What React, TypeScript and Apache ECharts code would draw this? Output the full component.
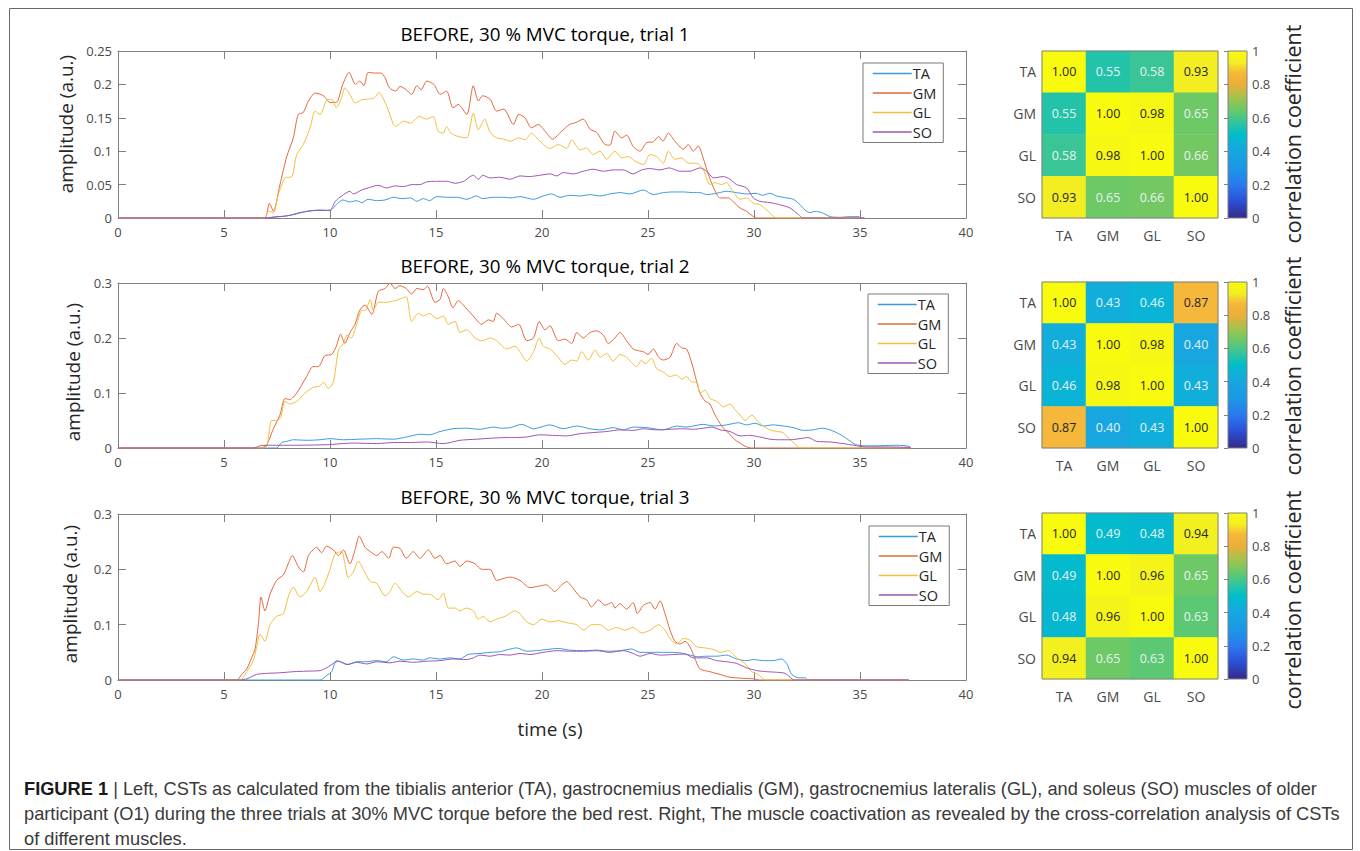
import React, { useEffect, useRef } from "react";
import * as echarts from "echarts";

// ---------------- data ----------------
const MUSCLES = ["TA", "GM", "GL", "SO"];
const TITLES = [
  "BEFORE, 30 % MVC torque, trial 1",
  "BEFORE, 30 % MVC torque, trial 2",
  "BEFORE, 30 % MVC torque, trial 3",
];
const Y_MAX = [0.25, 0.3, 0.3];
const Y_STEP = [0.05, 0.1, 0.1];

const P1_TA = [[0,0],[6.89,0],[7.64,0.002],[8.27,0.005],[8.9,0.01],[9.53,0.012],[10.0,0.011],[10.3,0.02],[10.6,0.027],[10.94,0.024],[11.25,0.026],[11.5,0.023],[11.8,0.028],[12.2,0.026],[12.6,0.027],[12.99,0.031],[13.4,0.029],[13.8,0.03],[14.1,0.025],[14.4,0.029],[14.7,0.026],[15.03,0.032],[15.5,0.031],[16.0,0.031],[16.45,0.028],[16.9,0.033],[17.2,0.029],[17.7,0.031],[18.2,0.031],[18.5,0.03],[18.96,0.032],[19.6,0.028],[20.06,0.033],[20.45,0.036],[20.85,0.031],[21.3,0.034],[21.8,0.033],[22.26,0.035],[22.74,0.033],[23.2,0.036],[23.68,0.038],[24.15,0.036],[24.78,0.042],[25.25,0.035],[25.72,0.038],[26.2,0.039],[26.67,0.039],[27.14,0.038],[27.45,0.038],[27.77,0.035],[28.24,0.037],[28.7,0.04],[29.18,0.038],[29.65,0.036],[30.1,0.037],[30.4,0.034],[30.75,0.037],[31.07,0.033],[31.54,0.03],[31.86,0.028],[32.17,0.02],[32.4,0.012],[32.64,0.008],[32.88,0.01],[33.2,0.008],[33.6,0.002],[34.05,0.001],[34.5,0.002],[34.9,0.002],[35.15,0],[35.2,0]];
const P1_GM = [[0,0],[6.89,0],[7.14,0.022],[7.33,0.01],[7.64,0.05],[7.96,0.092],[8.27,0.12],[8.5,0.155],[8.74,0.158],[8.98,0.175],[9.3,0.187],[9.69,0.183],[10.0,0.173],[10.3,0.173],[10.6,0.2],[10.9,0.218],[11.2,0.2],[11.4,0.205],[11.6,0.198],[11.8,0.218],[12.1,0.217],[12.4,0.217],[12.6,0.21],[12.8,0.195],[13.1,0.19],[13.3,0.197],[13.6,0.192],[13.85,0.185],[14.1,0.198],[14.3,0.192],[14.56,0.205],[14.9,0.2],[15.2,0.185],[15.5,0.19],[15.8,0.165],[16.05,0.17],[16.45,0.155],[16.76,0.198],[17.0,0.175],[17.2,0.183],[17.55,0.178],[17.86,0.16],[18.2,0.163],[18.65,0.14],[18.9,0.155],[19.2,0.15],[19.5,0.135],[19.83,0.14],[20.14,0.13],[20.5,0.118],[20.93,0.13],[21.3,0.14],[21.6,0.143],[21.95,0.148],[22.26,0.133],[22.58,0.128],[22.97,0.11],[23.2,0.109],[23.44,0.13],[23.76,0.12],[23.99,0.124],[24.3,0.107],[24.62,0.1],[24.94,0.113],[25.25,0.114],[25.5,0.122],[25.7,0.115],[25.96,0.127],[26.27,0.115],[26.67,0.103],[26.9,0.11],[27.14,0.1],[27.37,0.108],[27.6,0.09],[27.85,0.065],[28.1,0.045],[28.4,0.03],[28.8,0.03],[29.0,0.025],[29.34,0.015],[29.65,0.01],[29.97,0.002],[30.1,0],[35.2,0]];
const P1_GL = [[0,0],[6.89,0],[7.1,0.01],[7.33,0.008],[7.56,0.035],[7.88,0.06],[8.2,0.062],[8.43,0.095],[8.74,0.11],[9.06,0.135],[9.3,0.16],[9.53,0.155],[9.84,0.176],[10.08,0.178],[10.3,0.165],[10.55,0.18],[10.7,0.195],[10.94,0.185],[11.18,0.172],[11.5,0.177],[11.8,0.178],[12.1,0.18],[12.3,0.188],[12.67,0.168],[12.99,0.14],[13.1,0.137],[13.47,0.145],[13.8,0.142],[14.2,0.152],[14.56,0.148],[14.87,0.152],[15.1,0.13],[15.34,0.127],[15.5,0.137],[15.7,0.127],[16.05,0.122],[16.45,0.12],[16.76,0.157],[17.0,0.132],[17.3,0.148],[17.55,0.128],[17.86,0.12],[18.2,0.118],[18.5,0.115],[18.9,0.12],[19.2,0.117],[19.5,0.127],[19.9,0.115],[20.38,0.104],[20.77,0.11],[21.16,0.104],[21.4,0.117],[21.8,0.102],[22.1,0.105],[22.4,0.095],[22.74,0.1],[23.05,0.088],[23.44,0.1],[23.76,0.09],[24.07,0.092],[24.39,0.085],[24.78,0.08],[25.09,0.095],[25.4,0.092],[25.72,0.082],[25.96,0.1],[26.27,0.088],[26.59,0.09],[26.9,0.082],[27.3,0.082],[27.6,0.073],[27.92,0.05],[28.16,0.053],[28.48,0.05],[28.7,0.053],[29.0,0.04],[29.34,0.028],[29.65,0.03],[29.97,0.022],[30.28,0.02],[30.6,0.012],[30.9,0.003],[31.07,0],[35.2,0]];
const P1_SO = [[0,0],[6.89,0],[7.48,0.002],[7.96,0.003],[8.58,0.008],[9.2,0.011],[10.0,0.012],[10.25,0.025],[10.55,0.033],[10.94,0.04],[11.1,0.036],[11.5,0.042],[11.9,0.046],[12.27,0.049],[12.67,0.045],[13.06,0.048],[13.47,0.047],[13.86,0.05],[14.24,0.05],[14.56,0.054],[15.03,0.055],[15.5,0.055],[15.9,0.052],[16.3,0.055],[16.76,0.064],[17.0,0.058],[17.2,0.064],[17.55,0.06],[18.0,0.061],[18.5,0.058],[18.96,0.063],[19.4,0.062],[19.9,0.064],[20.38,0.066],[20.7,0.063],[21.0,0.068],[21.5,0.066],[21.95,0.07],[22.4,0.073],[22.9,0.07],[23.36,0.072],[23.84,0.072],[24.3,0.066],[24.7,0.072],[25.1,0.074],[25.56,0.072],[26.0,0.075],[26.5,0.07],[26.98,0.07],[27.45,0.075],[27.77,0.07],[28.1,0.06],[28.55,0.062],[28.87,0.058],[29.18,0.05],[29.65,0.045],[29.97,0.03],[30.28,0.025],[30.75,0.023],[31.2,0.02],[31.7,0.015],[32.1,0.005],[32.3,0],[35.2,0]];

const P2_TA = [[0,0],[7.48,0],[7.72,0.01],[7.96,0.012],[8.27,0.015],[8.9,0.014],[9.53,0.015],[10.0,0.017],[10.63,0.015],[11.4,0.016],[12.2,0.017],[13.0,0.016],[13.6,0.02],[14.24,0.025],[14.7,0.024],[15.19,0.03],[15.8,0.035],[16.45,0.036],[17.07,0.034],[17.7,0.038],[18.1,0.036],[18.5,0.037],[19.04,0.043],[19.6,0.035],[20.38,0.042],[21.0,0.035],[21.64,0.04],[22.26,0.035],[22.74,0.033],[23.36,0.037],[23.84,0.033],[24.3,0.038],[24.94,0.037],[25.72,0.033],[26.35,0.04],[26.82,0.038],[27.6,0.043],[28.1,0.04],[28.7,0.042],[29.26,0.046],[29.65,0.042],[30.05,0.045],[30.44,0.04],[30.9,0.042],[31.38,0.04],[31.86,0.037],[32.33,0.032],[32.8,0.033],[33.2,0.036],[33.58,0.033],[34.05,0.025],[34.45,0.015],[34.8,0.006],[35.2,0.004],[35.8,0.004],[36.6,0.005],[37.2,0.004],[37.4,0.001]];
const P2_GM = [[0,0],[6.7,0],[7.0,0.005],[7.33,0.035],[7.64,0.06],[7.88,0.09],[8.1,0.088],[8.43,0.1],[8.9,0.13],[9.2,0.148],[9.45,0.148],[9.76,0.168],[10.08,0.17],[10.3,0.185],[10.5,0.207],[10.7,0.19],[10.94,0.21],[11.18,0.225],[11.4,0.25],[11.65,0.26],[11.97,0.243],[12.28,0.285],[12.6,0.29],[12.83,0.3],[13.07,0.29],[13.3,0.295],[13.6,0.29],[13.85,0.28],[14.1,0.29],[14.4,0.288],[14.6,0.294],[14.95,0.265],[15.19,0.27],[15.35,0.29],[15.58,0.275],[15.8,0.255],[16.05,0.268],[16.4,0.255],[16.76,0.24],[17.15,0.225],[17.47,0.233],[17.7,0.23],[17.86,0.245],[18.18,0.235],[18.57,0.22],[18.9,0.225],[19.28,0.195],[19.6,0.2],[19.87,0.23],[20.14,0.215],[20.38,0.222],[20.77,0.195],[21.08,0.198],[21.4,0.19],[21.64,0.21],[21.95,0.2],[22.26,0.21],[22.58,0.213],[22.9,0.205],[23.13,0.19],[23.44,0.2],[23.68,0.21],[23.99,0.195],[24.3,0.18],[24.54,0.177],[24.78,0.175],[25.0,0.17],[25.25,0.18],[25.5,0.165],[25.72,0.16],[26.04,0.165],[26.35,0.19],[26.59,0.182],[26.82,0.18],[27.06,0.155],[27.3,0.12],[27.45,0.1],[27.7,0.085],[27.92,0.08],[28.16,0.06],[28.48,0.04],[28.8,0.027],[29.1,0.015],[29.42,0.007],[29.65,0.002],[29.9,0],[37.4,0]];
const P2_GL = [[0,0],[6.7,0],[7.0,0.002],[7.25,0.05],[7.48,0.05],[7.67,0.055],[7.88,0.085],[8.1,0.08],[8.43,0.085],[8.82,0.1],[9.2,0.11],[9.53,0.113],[9.69,0.12],[9.92,0.108],[10.16,0.12],[10.4,0.178],[10.63,0.19],[10.8,0.205],[11.0,0.2],[11.26,0.225],[11.5,0.25],[11.65,0.25],[11.9,0.27],[12.04,0.25],[12.28,0.265],[12.67,0.265],[13.07,0.268],[13.38,0.272],[13.6,0.275],[13.85,0.23],[14.17,0.245],[14.4,0.24],[14.7,0.245],[15.03,0.235],[15.35,0.24],[15.58,0.225],[15.9,0.23],[16.13,0.21],[16.45,0.215],[16.84,0.2],[17.15,0.195],[17.55,0.2],[17.86,0.195],[18.33,0.18],[18.73,0.185],[18.96,0.175],[19.28,0.158],[19.6,0.175],[19.87,0.2],[20.06,0.185],[20.38,0.18],[20.7,0.168],[21.08,0.152],[21.4,0.16],[21.64,0.158],[21.87,0.175],[22.19,0.16],[22.5,0.178],[22.74,0.165],[23.05,0.172],[23.36,0.158],[23.68,0.17],[23.99,0.165],[24.23,0.155],[24.46,0.148],[24.7,0.16],[24.86,0.153],[25.17,0.163],[25.4,0.145],[25.72,0.138],[26.04,0.13],[26.35,0.133],[26.59,0.125],[26.82,0.13],[27.06,0.12],[27.3,0.12],[27.45,0.1],[27.7,0.105],[27.92,0.09],[28.24,0.085],[28.55,0.075],[28.87,0.08],[29.1,0.07],[29.34,0.06],[29.57,0.05],[29.9,0.06],[30.13,0.05],[30.44,0.04],[30.75,0.033],[31.07,0.03],[31.38,0.028],[31.62,0.018],[31.93,0.008],[32.17,0],[37.4,0]];
const P2_SO = [[0,0],[6.4,0],[6.7,0.004],[7.0,0.005],[8.27,0.005],[9.84,0.006],[11.1,0.009],[12.2,0.008],[13.0,0.01],[13.8,0.01],[14.56,0.011],[15.35,0.008],[16.13,0.014],[16.9,0.016],[17.7,0.018],[18.3,0.019],[18.65,0.019],[19.28,0.02],[19.9,0.024],[20.5,0.023],[21.16,0.022],[21.8,0.026],[22.4,0.028],[23.05,0.03],[23.68,0.033],[24.3,0.032],[24.78,0.035],[25.4,0.033],[26.04,0.034],[26.59,0.035],[27.14,0.034],[27.6,0.036],[28.0,0.038],[28.4,0.033],[28.87,0.03],[29.34,0.022],[29.8,0.023],[30.28,0.02],[30.75,0.016],[31.2,0.015],[31.7,0.015],[32.17,0.017],[32.56,0.019],[32.95,0.012],[33.58,0.011],[34.2,0.008],[34.7,0.005],[35.3,0.002],[36.1,0.002],[37.36,0.001],[37.4,0]];

const P3_TA = [[0,0],[9.53,0],[9.84,0.008],[10.08,0.015],[10.3,0.035],[10.55,0.032],[10.86,0.028],[11.26,0.033],[11.74,0.033],[12.2,0.035],[12.67,0.033],[12.99,0.042],[13.46,0.036],[13.93,0.038],[14.4,0.036],[14.7,0.04],[15.19,0.038],[15.66,0.04],[16.13,0.038],[16.5,0.046],[17.07,0.048],[17.55,0.05],[18.0,0.051],[18.4,0.055],[18.8,0.058],[19.28,0.052],[19.75,0.053],[20.2,0.055],[20.77,0.057],[21.3,0.054],[21.95,0.053],[22.58,0.054],[23.13,0.052],[23.68,0.053],[24.23,0.056],[24.62,0.05],[25.1,0.05],[25.57,0.05],[26.04,0.05],[26.5,0.049],[26.98,0.045],[27.37,0.042],[27.77,0.043],[28.24,0.043],[28.7,0.045],[29.18,0.038],[29.65,0.035],[29.97,0.037],[30.44,0.035],[30.9,0.035],[31.3,0.038],[31.54,0.03],[31.78,0.01],[32.1,0.004],[32.4,0.004],[32.56,0],[37.3,0]];
const P3_GM = [[0,0],[5.6,0],[5.83,0.01],[6.07,0.02],[6.3,0.04],[6.46,0.055],[6.62,0.1],[6.75,0.15],[6.93,0.125],[7.17,0.155],[7.48,0.18],[7.8,0.19],[8.03,0.21],[8.22,0.225],[8.5,0.205],[8.74,0.195],[8.98,0.225],[9.2,0.235],[9.37,0.24],[9.6,0.23],[9.84,0.242],[10.16,0.235],[10.4,0.225],[10.63,0.235],[10.94,0.21],[11.18,0.235],[11.38,0.26],[11.65,0.24],[11.97,0.23],[12.2,0.225],[12.45,0.232],[12.77,0.22],[12.99,0.24],[13.3,0.238],[13.6,0.22],[13.93,0.232],[14.24,0.22],[14.64,0.235],[14.95,0.22],[15.19,0.225],[15.5,0.21],[15.9,0.215],[16.13,0.205],[16.45,0.215],[16.84,0.21],[17.15,0.2],[17.55,0.2],[17.86,0.18],[18.33,0.185],[18.5,0.186],[18.96,0.18],[19.43,0.167],[19.9,0.17],[20.2,0.172],[20.6,0.16],[20.93,0.172],[21.16,0.178],[21.48,0.165],[21.8,0.15],[22.1,0.145],[22.34,0.132],[22.66,0.145],[22.97,0.135],[23.29,0.14],[23.44,0.13],[23.68,0.138],[23.99,0.128],[24.3,0.14],[24.5,0.12],[24.78,0.135],[25.1,0.14],[25.33,0.128],[25.57,0.143],[25.8,0.12],[26.04,0.09],[26.27,0.07],[26.5,0.065],[26.75,0.07],[26.98,0.06],[27.2,0.04],[27.45,0.02],[27.92,0.015],[28.4,0.01],[28.87,0.005],[29.5,0.003],[29.97,0.002],[30.28,0],[37.3,0]];
const P3_GL = [[0,0],[5.75,0],[6.07,0.015],[6.38,0.035],[6.54,0.06],[6.7,0.083],[6.93,0.07],[7.17,0.1],[7.48,0.115],[7.8,0.12],[8.03,0.15],[8.27,0.168],[8.58,0.15],[8.9,0.16],[9.3,0.185],[9.53,0.16],[9.76,0.175],[10.0,0.2],[10.25,0.228],[10.55,0.232],[10.7,0.21],[10.86,0.185],[11.1,0.195],[11.33,0.215],[11.57,0.2],[11.9,0.178],[12.2,0.175],[12.6,0.152],[12.83,0.16],[13.07,0.175],[13.4,0.16],[13.7,0.15],[14.1,0.16],[14.4,0.155],[14.7,0.155],[15.1,0.145],[15.35,0.157],[15.58,0.13],[15.9,0.13],[16.13,0.125],[16.45,0.13],[16.76,0.125],[17.0,0.11],[17.23,0.115],[17.55,0.105],[17.86,0.11],[18.26,0.115],[18.73,0.125],[18.96,0.12],[19.28,0.105],[19.6,0.1],[20.0,0.11],[20.38,0.105],[20.77,0.107],[21.24,0.103],[21.64,0.1],[21.95,0.09],[22.34,0.1],[22.74,0.1],[23.13,0.09],[23.52,0.095],[23.9,0.09],[24.3,0.095],[24.7,0.085],[25.1,0.09],[25.5,0.1],[25.8,0.09],[26.04,0.075],[26.35,0.065],[26.67,0.075],[26.98,0.072],[27.3,0.06],[27.7,0.058],[28.1,0.055],[28.4,0.05],[28.8,0.053],[29.18,0.04],[29.57,0.03],[29.9,0.015],[30.2,0.01],[30.44,0.002],[30.6,0],[37.3,0]];
const P3_SO = [[0,0],[5.75,0],[6.07,0.002],[6.54,0.01],[7.0,0.012],[7.64,0.013],[8.27,0.015],[8.9,0.016],[9.53,0.017],[9.84,0.022],[10.16,0.03],[10.4,0.034],[10.8,0.028],[11.26,0.032],[11.74,0.029],[12.2,0.033],[12.83,0.031],[13.3,0.034],[13.93,0.032],[14.56,0.034],[15.19,0.035],[15.8,0.038],[16.45,0.037],[16.76,0.04],[17.07,0.045],[17.55,0.043],[18.0,0.046],[18.5,0.045],[18.96,0.048],[19.43,0.046],[20.06,0.05],[20.7,0.053],[21.3,0.052],[21.95,0.052],[22.58,0.053],[23.2,0.05],[23.84,0.053],[24.3,0.048],[24.62,0.043],[25.1,0.048],[25.57,0.045],[26.2,0.046],[26.75,0.047],[27.14,0.04],[27.77,0.04],[28.24,0.035],[28.7,0.033],[29.18,0.03],[29.65,0.022],[30.13,0.017],[30.6,0.015],[31.07,0.014],[31.46,0.012],[31.8,0.002],[31.9,0],[37.3,0]];

const CORR_1 = [[1.0,0.55,0.58,0.93],[0.55,1.0,0.98,0.65],[0.58,0.98,1.0,0.66],[0.93,0.65,0.66,1.0]];
const CORR_2 = [[1.0,0.43,0.46,0.87],[0.43,1.0,0.98,0.40],[0.46,0.98,1.0,0.43],[0.87,0.40,0.43,1.0]];
const CORR_3 = [[1.0,0.49,0.48,0.94],[0.49,1.0,0.96,0.65],[0.48,0.96,1.0,0.63],[0.94,0.65,0.63,1.0]];

const CAPTION = [
  "{b|FIGURE 1} | Left, CSTs as calculated from the tibialis anterior (TA), gastrocnemius medialis (GM), gastrocnemius lateralis (GL), and soleus (SO) muscles of older",
  "participant (O1) during the three trials at 30% MVC torque before the bed rest. Right, The muscle coactivation as revealed by the cross-correlation analysis of CSTs",
  "of different muscles.",
];

const PANELS = [
  [P1_TA, P1_GM, P1_GL, P1_SO],
  [P2_TA, P2_GM, P2_GL, P2_SO],
  [P3_TA, P3_GM, P3_GL, P3_SO],
];
const CORRS = [CORR_1, CORR_2, CORR_3];

// ---------------- style / layout ----------------
const FONT = "'Open Sans', 'Noto Sans', sans-serif";
const CAP_FONT = "'Liberation Sans', Arial, sans-serif";
const LINE_COLORS = ["#3a9ade", "#e3673b", "#f2bd3c", "#9f55b3"];
const BOX = "#808080";
const TICK_TXT = "#4a4a4a";
const CMAP: [number, string][] = [
  [0, "#352a87"], [0.1, "#2c4fd6"], [0.2, "#2b7aee"], [0.3, "#1a98e6"],
  [0.4, "#17a6e0"], [0.47, "#08b6d4"], [0.5, "#00bdc8"], [0.56, "#2ac4a4"],
  [0.65, "#6cc966"], [0.72, "#a4c24e"], [0.8, "#edae38"], [0.87, "#f6b83a"],
  [0.93, "#f2ee22"], [1, "#f9fb0e"],
];

function hexToRgb(h: string) {
  const n = parseInt(h.slice(1), 16);
  return [(n >> 16) & 255, (n >> 8) & 255, n & 255];
}
function cmap(v: number) {
  for (let i = 0; i < CMAP.length - 1; i++) {
    const [a, ca] = CMAP[i];
    const [b, cb] = CMAP[i + 1];
    if (v <= b) {
      const t = (v - a) / (b - a);
      const A = hexToRgb(ca), B = hexToRgb(cb);
      const c = A.map((x, k) => Math.round(x + (B[k] - x) * t));
      return `rgb(${c[0]},${c[1]},${c[2]})`;
    }
  }
  return CMAP[CMAP.length - 1][1];
}
// evenly sampled colour ramp for the visualMap
const RAMP: string[] = [];
for (let i = 0; i <= 100; i++) RAMP.push(cmap(i / 100));

const LINE_LEFT = 118, LINE_W = 848;
const PANEL_TOP = [51, 283, 514];
const PANEL_H = [167, 165, 166];
const HEAT_LEFT = 1042, HEAT_W = 176;
const HEAT_TOP = [51, 282, 513];
const HEAT_H = [167, 166, 166];
const CBAR_LEFT = 1228, CBAR_W = 19;
const LEGEND_POS = [[863, 63], [868, 294], [869, 526]];
const TITLE_Y = [34, 266, 497];
const YLAB_X = [66, 73, 70];
const YLAB_Y = [124, 372, 594];
const CORR_LAB_Y = [134, 366, 600];

function buildOption() {
  const grid: any[] = [];
  const xAxis: any[] = [];
  const yAxis: any[] = [];
  const series: any[] = [];

  const lineAxisLine = { show: true, onZero: false, lineStyle: { color: BOX, width: 1 } };
  const tick = { show: true, inside: true, length: 8, lineStyle: { color: BOX } };

  for (let i = 0; i < 3; i++) {
    grid.push({ left: LINE_LEFT, top: PANEL_TOP[i], width: LINE_W, height: PANEL_H[i], containLabel: false });
    xAxis.push({
      type: "value", gridIndex: i, min: 0, max: 40, interval: 5, position: "bottom",
      axisLine: lineAxisLine, axisTick: tick, splitLine: { show: false },
      axisLabel: { fontSize: 13, color: TICK_TXT, margin: 7, fontFamily: FONT },
    });
    xAxis.push({
      type: "value", gridIndex: i, min: 0, max: 40, interval: 5, position: "top",
      axisLine: lineAxisLine, axisTick: tick, splitLine: { show: false }, axisLabel: { show: false },
    });
    yAxis.push({
      type: "value", gridIndex: i, min: 0, max: Y_MAX[i], interval: Y_STEP[i], position: "left",
      axisLine: lineAxisLine, axisTick: tick, splitLine: { show: false },
      axisLabel: { fontSize: 13, color: TICK_TXT, margin: 6, fontFamily: FONT },
    });
    yAxis.push({
      type: "value", gridIndex: i, min: 0, max: Y_MAX[i], interval: Y_STEP[i], position: "right",
      axisLine: lineAxisLine, axisTick: tick, splitLine: { show: false }, axisLabel: { show: false },
    });
    PANELS[i].forEach((d, k) => {
      series.push({
        type: "line", name: MUSCLES[k], xAxisIndex: 2 * i, yAxisIndex: 2 * i,
        data: d, symbol: "none", showSymbol: false, smooth: 0.25,
        lineStyle: { width: 1, color: LINE_COLORS[k] }, itemStyle: { color: LINE_COLORS[k] },
        emphasis: { disabled: true }, silent: true,
      });
    });
  }

  const heatIdx: number[] = [];
  for (let i = 0; i < 3; i++) {
    grid.push({
      left: HEAT_LEFT, top: HEAT_TOP[i], width: HEAT_W, height: HEAT_H[i],
      show: true, borderColor: BOX, borderWidth: 1, backgroundColor: "transparent", z: 5,
    });
    xAxis.push({
      type: "category", gridIndex: 3 + i, data: MUSCLES,
      axisLine: { show: false }, axisTick: { show: false }, splitLine: { show: false },
      axisLabel: { fontSize: 14, color: TICK_TXT, margin: 10, fontFamily: FONT },
    });
    yAxis.push({
      type: "category", gridIndex: 3 + i, data: MUSCLES, inverse: true,
      axisLine: { show: false }, axisTick: { show: false }, splitLine: { show: false },
      axisLabel: { fontSize: 14, color: TICK_TXT, margin: 6, fontFamily: FONT },
    });
    const data = CORRS[i].flatMap((row, r) =>
      row.map((v, c) => ({
        value: [c, r, v],
        label: { color: v >= 0.8 ? "#262626" : "#e6f2f2" },
      }))
    );
    heatIdx.push(series.length);
    series.push({
      type: "heatmap", xAxisIndex: 6 + i, yAxisIndex: 6 + i, data,
      label: {
        show: true, fontSize: 12.5, fontFamily: FONT,
        formatter: (p: any) => Number(p.value[2]).toFixed(2),
      },
      emphasis: { disabled: true }, silent: true,
    });
  }

  const grad = () =>
    new echarts.graphic.LinearGradient(0, 1, 0, 0, CMAP.map(([o, c]) => ({ offset: o, color: c })));

  for (let i = 0; i < 3; i++) {
    grid.push({
      left: CBAR_LEFT, top: HEAT_TOP[i], width: CBAR_W, height: HEAT_H[i],
      show: true, borderColor: BOX, borderWidth: 1, backgroundColor: "transparent", z: 5,
    });
    xAxis.push({ type: "value", gridIndex: 6 + i, min: 0, max: 1, show: false });
    yAxis.push({
      type: "value", gridIndex: 6 + i, min: 0, max: 1, interval: 0.2, position: "right",
      axisLine: { show: false }, splitLine: { show: false },
      axisTick: { show: true, inside: true, length: 4, lineStyle: { color: BOX } },
      axisLabel: { fontSize: 13, color: TICK_TXT, margin: 5, fontFamily: FONT },
      z: 6,
    });
    series.push({
      type: "custom", xAxisIndex: 9 + i, yAxisIndex: 9 + i, silent: true,
      data: [[0, 0, 1, 1]], encode: { x: [0, 2], y: [1, 3] },
      renderItem: (_p: any, api: any) => {
        const p0 = api.coord([api.value(0), api.value(1)]);
        const p1 = api.coord([api.value(2), api.value(3)]);
        return {
          type: "rect",
          shape: { x: p0[0], y: p1[1], width: p1[0] - p0[0], height: p0[1] - p1[1] },
          style: { fill: grad() },
        };
      },
    });
  }

  const legend = LEGEND_POS.map(([l, t]) => ({
    left: l, top: t, orient: "vertical", data: MUSCLES,
    itemWidth: 39, itemHeight: 14, itemGap: 4.5, padding: [3, 7, 3, 9],
    borderColor: "#7a7a7a", borderWidth: 1, backgroundColor: "#ffffff",
    selectedMode: false,
    itemStyle: { opacity: 0 },
    lineStyle: { width: 1.4 },
    textStyle: { fontSize: 14.5, fontFamily: FONT, color: "#262626", padding: [0, 0, 0, -4] },
  }));

  const graphic: any[] = [
    {
      type: "rect", silent: true, z: -10,
      shape: { x: 9.5, y: 8.5, width: 1343, height: 841 },
      style: { fill: "none", stroke: "#6a6a6a", lineWidth: 1 },
    },
  ];
  for (let i = 0; i < 3; i++) {
    graphic.push({
      type: "text", x: 545, y: TITLE_Y[i], silent: true,
      style: { text: TITLES[i], fontSize: 18.8, fontFamily: FONT, fill: "#000", align: "center", verticalAlign: "middle" },
    });
    graphic.push({
      type: "text", x: YLAB_X[i], y: YLAB_Y[i], rotation: Math.PI / 2, silent: true,
      style: { text: "amplitude (a.u.)", fontSize: 19, fontFamily: FONT, fill: "#262626", align: "center", verticalAlign: "middle" },
    });
    graphic.push({
      type: "text", x: 1292, y: CORR_LAB_Y[i], rotation: Math.PI / 2, silent: true,
      style: { text: "correlation coefficient", fontSize: 21.5, fontFamily: FONT, fill: "#262626", align: "center", verticalAlign: "middle" },
    });
  }
  graphic.push({
    type: "text", x: 550, y: 729, silent: true,
    style: { text: "time (s)", fontSize: 19, fontFamily: FONT, fill: "#262626", align: "center", verticalAlign: "middle" },
  });
  const CAP_Y = [788, 813, 838];
  CAPTION.forEach((t, i) => {
    graphic.push({
      type: "text", x: 24, y: CAP_Y[i], scaleX: 0.96, silent: true,
      style: {
        text: t, fontSize: 19, fontFamily: CAP_FONT, fill: "#3a3a3a",
        align: "left", verticalAlign: "middle",
        rich: { b: { fontSize: 19, fontWeight: "bold", fill: "#1a1a1a", fontFamily: CAP_FONT } },
      },
    });
  });

  return {
    animation: false,
    backgroundColor: "#ffffff",
    textStyle: { fontFamily: FONT },
    visualMap: {
      type: "continuous", show: false, min: 0, max: 1, dimension: 2,
      seriesIndex: heatIdx, inRange: { color: RAMP },
    },
    grid, xAxis, yAxis, series, legend, graphic,
  };
}

export default function App() {
  const ref = useRef<HTMLDivElement>(null);
  useEffect(() => {
    if (!ref.current) return;
    const chart = echarts.init(ref.current, undefined, { renderer: "svg" });
    chart.setOption(buildOption() as any);
    return () => chart.dispose();
  }, []);
  return (
    <div
      ref={ref}
      style={{ position: "absolute", left: 0, top: 0, width: 1360, height: 851, background: "#fff" }}
    />
  );
}
